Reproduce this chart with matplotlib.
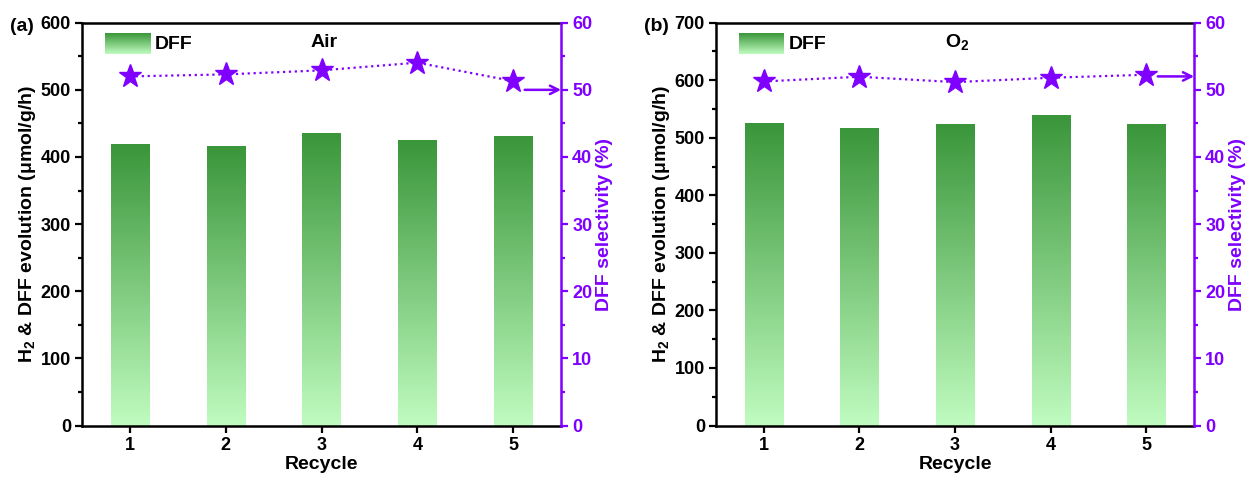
import numpy as np
import matplotlib
matplotlib.use('Agg')
import matplotlib.pyplot as plt
from matplotlib.ticker import MultipleLocator

plt.rcParams['font.family'] = ['Liberation Sans', 'DejaVu Sans']
plt.rcParams['font.weight'] = 'bold'
plt.rcParams['mathtext.fontset'] = 'custom'
plt.rcParams['mathtext.rm'] = 'Liberation Sans:bold'
plt.rcParams['mathtext.it'] = 'Liberation Sans:bold'
plt.rcParams['mathtext.bf'] = 'Liberation Sans:bold'

# data
recycle = [1, 2, 3, 4, 5]
dff_air = [419, 416, 436, 426, 431]
sel_air = [52.0, 52.3, 52.9, 54.05, 51.3]
dff_o2 = [525, 516.5, 524.5, 539, 524.5]
sel_o2 = [51.25, 51.95, 51.15, 51.8, 52.25]
arrow_y = [50, 52]          # where the "->" pointer to the right axis sits
panel_tags = ['(a)', '(b)']
gas_labels = ['Air', 'O$_2$']
left_max = [600, 700]

purple = '#7f00ff'
top_green = np.array([0x3a, 0x96, 0x3a]) / 255
bot_green = np.array([0xc0, 0xfc, 0xc0]) / 255

# vertical gradient image, row 0 = bottom (light), last row = top (dark)
t = np.linspace(0, 1, 256)[:, None]
grad = (bot_green[None, :] * (1 - t) + top_green[None, :] * t)[:, None, :]

fig = plt.figure(figsize=(12.56, 4.82), dpi=100)
axes_pos = [[0.0653, 0.1172, 0.3814, 0.8357],
            [0.5701, 0.1172, 0.3806, 0.8357]]

data = [(dff_air, sel_air), (dff_o2, sel_o2)]

for i, (dff, sel) in enumerate(data):
    ax = fig.add_axes(axes_pos[i])
    bars = ax.bar(recycle, dff, width=0.4, color='none', edgecolor='none', zorder=2)
    for b in bars:
        x0 = b.get_x()
        im = ax.imshow(grad, extent=[x0, x0 + b.get_width(), 0, b.get_height()],
                       origin='lower', aspect='auto', zorder=1)
        im.set_clip_path(b)
    ax.set_xlim(0.5, 5.5)
    ax.set_ylim(0, left_max[i])
    ax.set_xticks(recycle)
    ax.yaxis.set_major_locator(MultipleLocator(100))
    ax.yaxis.set_minor_locator(MultipleLocator(50))
    ax.tick_params(axis='both', which='major', direction='out', length=5, width=1.6,
                   labelsize=13, pad=3)
    ax.tick_params(axis='y', which='minor', direction='out', length=3, width=1.6)
    for lab in ax.get_xticklabels() + ax.get_yticklabels():
        lab.set_fontweight('bold')
    for s in ['left', 'bottom', 'top']:
        ax.spines[s].set_linewidth(1.8)
    ax.spines['right'].set_visible(False)
    ax.set_xlabel('Recycle', fontsize=14, fontweight='bold', labelpad=2)
    ax.set_ylabel(r'H$_2$ & DFF evolution ($\mu$mol/g/h)', fontsize=14,
                  fontweight='bold', labelpad=2)

    ax2 = ax.twinx()
    ax2.plot(recycle, sel, linestyle=':', color=purple, lw=1.6, marker='*',
             markersize=17, markerfacecolor=purple, markeredgecolor=purple)
    ax2.set_ylim(0, 60)
    ax2.yaxis.set_major_locator(MultipleLocator(10))
    ax2.yaxis.set_minor_locator(MultipleLocator(5))
    ax2.tick_params(axis='y', which='major', direction='out', length=5, width=1.6,
                    colors=purple, labelsize=13, pad=3)
    ax2.tick_params(axis='y', which='minor', direction='out', length=3, width=1.6,
                    colors=purple)
    for lab in ax2.get_yticklabels():
        lab.set_fontweight('bold')
    for s in ['left', 'bottom', 'top']:
        ax2.spines[s].set_visible(False)
    ax2.spines['right'].set_color(purple)
    ax2.spines['right'].set_linewidth(1.8)
    ax2.set_ylabel('DFF selectivity (%)', fontsize=14, fontweight='bold',
                   color=purple, labelpad=3)
    ax2.annotate('', xy=(5.5, arrow_y[i]), xytext=(5.12, arrow_y[i]),
                 arrowprops=dict(arrowstyle='->,head_length=0.6,head_width=0.3',
                                 color=purple, lw=1.8, shrinkA=0, shrinkB=0))

    # legend swatch with gradient
    lax = ax.inset_axes([0.047, 0.922, 0.094, 0.052])
    lax.imshow(grad, origin='lower', aspect='auto')
    lax.set_axis_off()
    ax.text(0.152, 0.945, 'DFF', transform=ax.transAxes, fontsize=14,
            fontweight='bold', va='center', ha='left')
    ax.text(0.505, 0.952, gas_labels[i], transform=ax.transAxes, fontsize=14,
            fontweight='bold', va='center', ha='center')
    ax.text(-0.15, 0.99, panel_tags[i], transform=ax.transAxes, fontsize=14,
            fontweight='bold', va='center', ha='left')

fig.savefig('out.png', dpi=100)
